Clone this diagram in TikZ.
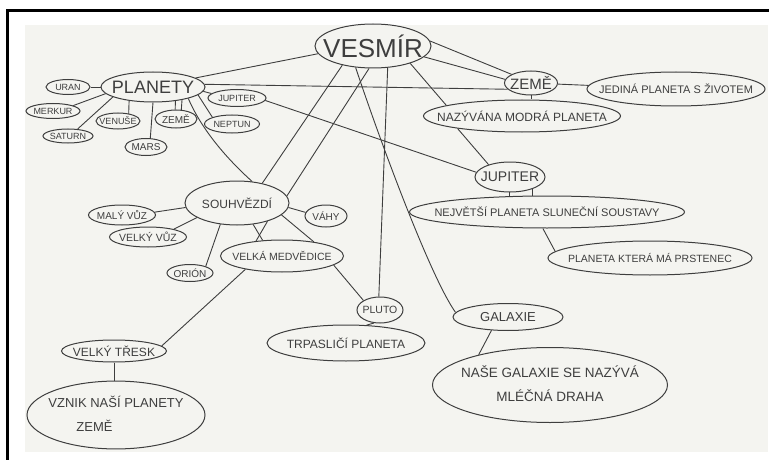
\documentclass[tikz,border=0pt]{standalone}
\usepackage{fontspec}
\setmainfont{Liberation Sans}
\usetikzlibrary{shapes.geometric}
\definecolor{pencil}{HTML}{3E3E3E}
\definecolor{paper}{HTML}{F4F4F0}
\newcommand{\word}[1]{\makebox[0pt]{#1}}
\tikzset{
  bubble/.style={ellipse,draw=pencil,line width=1pt,inner sep=0pt,text=pencil},
  link/.style={draw=pencil,line width=0.9pt},
  sz/.style={font=\fontsize{#1}{#1}\selectfont},
}

\begin{document}
\begin{tikzpicture}[x=1pt,y=-1pt]
    \useasboundingbox (0,0) rectangle (769,460);
    \fill[paper] (25,25) rectangle (768,452);
    \draw[line width=2.5pt] (7.5,460) -- (7.5,10.5) -- (769,10.5);

    % centre and planets
    \node[bubble,minimum width=116pt,minimum height=44pt,sz=26] (vesmir) at (373,46) {\word{VESMÍR}};
    \node[bubble,minimum width=104pt,minimum height=30pt,sz=18] (planety) at (153,87) {\word{PLANETY}};
    \node[bubble,minimum width=44pt,minimum height=15pt,sz=9] (uran) at (68,87) {\word{URAN}};
    \node[bubble,minimum width=54pt,minimum height=15pt,sz=9] (merkur) at (53,111) {\word{MERKUR}};
    \node[bubble,minimum width=50pt,minimum height=14pt,sz=9] (saturn) at (68,136) {\word{SATURN}};
    \node[bubble,minimum width=44pt,minimum height=16pt,sz=9] (venuse) at (118,121) {\word{VENUŠE}};
    \node[bubble,minimum width=42pt,minimum height=18pt,sz=10] (zemeL) at (176,119) {\word{ZEMĚ}};
    \node[bubble,minimum width=55pt,minimum height=18pt,sz=9] (neptun) at (232,124) {\word{NEPTUN}};
    \node[bubble,minimum width=42pt,minimum height=17pt,sz=10] (mars) at (146,147) {\word{MARS}};
    \node[bubble,minimum width=58pt,minimum height=17pt,sz=9] (jup1) at (237,98) {\word{JUPITER}};

    % right branch
    \node[bubble,minimum width=53pt,minimum height=24pt,sz=15] (zemeR) at (531,83) {\word{ZEMĚ}};
    \node[bubble,minimum width=178pt,minimum height=34pt,sz=11] (jedina) at (676,89) {\word{JEDINÁ PLANETA S ŽIVOTEM}};
    \node[bubble,minimum width=197pt,minimum height=32pt,sz=12] (nazyv) at (522,116) {\word{NAZÝVÁNA MODRÁ PLANETA}};
    \node[bubble,minimum width=70pt,minimum height=30pt,sz=14] (jup2) at (510,177) {\word{JUPITER}};
    \node[bubble,minimum width=275pt,minimum height=32pt,sz=11] (nejv) at (547,212) {\word{NEJVĚTŠÍ PLANETA SLUNEČNÍ SOUSTAVY}};
    \node[bubble,minimum width=204pt,minimum height=34pt,sz=10.5] (prst) at (650,258) {\word{PLANETA KTERÁ MÁ PRSTENEC}};

    % constellations
    \node[bubble,minimum width=104pt,minimum height=44pt,sz=12] (souhv) at (237,203) {\word{SOUHVĚZDÍ}};
    \node[bubble,minimum width=67pt,minimum height=20pt,sz=10] (maly) at (122,215) {\word{MALÝ VŮZ}};
    \node[bubble,minimum width=77pt,minimum height=20pt,sz=10.5] (velky) at (148,237) {\word{VELKÝ VŮZ}};
    \node[bubble,minimum width=46pt,minimum height=17pt,sz=10] (orion) at (190,273) {\word{ORIÓN}};
    \node[bubble,minimum width=42pt,minimum height=22pt,sz=10] (vahy) at (326,216) {\word{VÁHY}};
    \node[bubble,minimum width=123pt,minimum height=32pt,sz=10.5] (medv) at (282,256) {\word{VELKÁ MEDVĚDICE}};

    % lower part
    \node[bubble,minimum width=46pt,minimum height=26pt,sz=10.5] (pluto) at (380,310) {\word{PLUTO}};
    \node[bubble,minimum width=158pt,minimum height=36pt,sz=12] (trp) at (346,343) {\word{TRPASLIČÍ PLANETA}};
    \node[bubble,minimum width=110pt,minimum height=27pt,sz=13] (galaxie) at (508,317) {\word{GALAXIE}};
    \node[bubble,minimum width=235pt,minimum height=75pt,font=\fontsize{13.5}{24}\selectfont] (nase) at (550,385)
        {\word{\begin{tabular}{@{}c@{}}NAŠE GALAXIE SE NAZÝVÁ\\MLÉČNÁ DRAHA\end{tabular}}};
    \node[bubble,minimum width=105pt,minimum height=22pt,sz=12] (tresk) at (114,351) {\word{VELKÝ TŘESK}};
    \node[bubble,minimum width=178pt,minimum height=64pt,font=\fontsize{13}{24}\selectfont] (vznik) at (116,415)
        {\word{\begin{tabular}{@{}l@{}}VZNIK NAŠÍ PLANETY\\\hspace{28pt}ZEMĚ\end{tabular}}};

    % links from VESMIR
    \draw[link] (vesmir.188) -- (planety.12);
    \draw[link] (planety.3) -- (zemeR.195);
    \draw[link] (vesmir.5) -- (zemeR.156);
    \draw[link] (vesmir.-12) -- (zemeR.172);
    \draw[link] (vesmir.-25) -- (nazyv.172);
    \draw[link] (vesmir.212) -- (souhv.38);
    \draw[link] (vesmir.260) -- (souhv.8);
    \draw[link] (vesmir.231) .. controls +(25,75) and +(-25,-35) .. (galaxie.175);
    \draw[link] (vesmir.-56) -- (pluto.95);

    % planets
    \draw[link] (planety.180) -- (uran.0);
    \draw[link] (planety.188) -- (merkur.15);
    \draw[link] (planety.194) -- (saturn.36);
    \draw[link] (planety.210) -- (venuse.35);
    \draw[link] (planety.-90) -- (mars.64);
    \draw[link] (planety.-32) -- (zemeL.95);
    \draw[link] (planety.-24) -- (zemeL.60);
    \draw[link] (planety.-10) -- (neptun.161);
    \draw[link] (planety.-5) -- (jup1.170);
    \draw[link] (planety.-18) .. controls +(15,35) and +(-20,-18) .. (souhv.55);

    % right branch
    \draw[link] (zemeR) -- (jedina);
    \draw[link] (zemeR.south) -- (zemeR.south |- nazyv.north);
    \draw[link] (nazyv.191) -- (jup2.150);
    \draw[link] (jup1.-5) -- (jup2.172);
    \draw[link] (jup2.-92) -- (jup2.-92 |- nejv.north);
    \draw[link] (jup2.-28) -- (jup2.-28 |- nejv.north);
    \draw[link] (nejv.-104) -- (prst.176);

    % constellations
    \draw[link] (souhv.185) -- (maly.5);
    \draw[link] (souhv.200) -- (velky.17);
    \draw[link] (souhv.232) -- (orion.23);
    \draw[link] (souhv.-5) -- (vahy.170);
    \draw[link] (souhv.-15) -- (medv.24);
    \draw[link] (souhv.-53) -- (medv.141);
    \draw[link] (souhv.-31) -- (medv.150);

    % lower part
    \draw[link] (medv.-10) -- (pluto.150);
    \draw[link] (medv.200) -- (tresk.6);
    \draw[link] (tresk.south) -- (tresk.south |- vznik.north);
    \draw[link] (pluto.-115) -- (trp.41);
    \draw[link] (galaxie.219) -- (nase.157);
\end{tikzpicture}
\end{document}
